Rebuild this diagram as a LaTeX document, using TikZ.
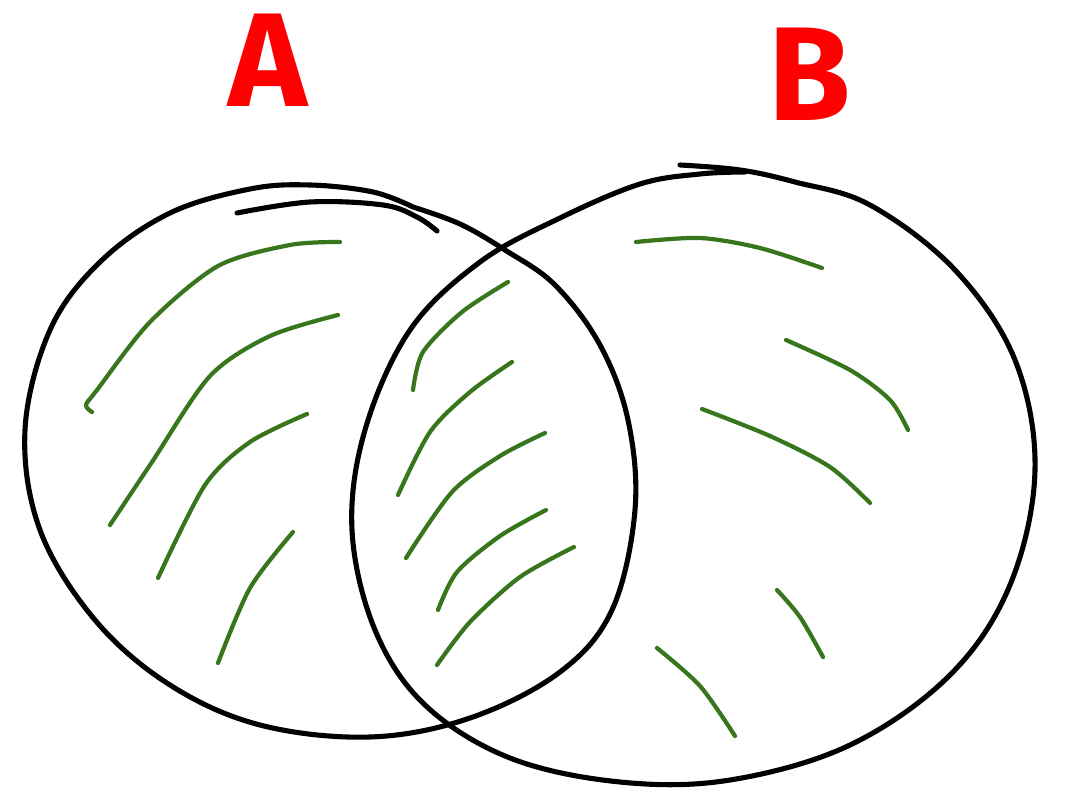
\documentclass[tikz,border=0pt]{standalone}
\usepackage{fontspec}
\setmainfont{Fira Sans}
\begin{document}
\begin{tikzpicture}[x=0.02cm,y=-0.02cm,
  outline/.style={black,line width=2.9pt,line cap=round,line join=round},
  hatch/.style={draw=hatchgreen,line width=2.4pt,line cap=round,line join=round},
  setlabel/.style={text=red,font=\fontsize{76}{76}\selectfont\bfseries}]
\definecolor{hatchgreen}{RGB}{56,118,29}
\useasboundingbox (0,0) rectangle (1069,804);
% circle A
\draw[outline] plot[smooth,tension=0.6] coordinates {(237,213) (310,202) (383,205) (417,217) (437,231)};
\draw[outline] plot[smooth,tension=0.6] coordinates {(413,207) (373,192) (310,185) (250,189) (170,213) (100,262) (50,330) (25,430) (40,530) (95,620) (170,685) (260,725) (370,737) (470,718) (560,672) (612,610) (635,510) (628,420) (600,345) (555,285) (505,250) (460,224) (413,207)};
% circle B
\draw[outline] plot[smooth,tension=0.6] coordinates {(680,165) (740,170) (795,182) (870,205) (955,270) (1015,360) (1035,470) (1010,585) (950,675) (850,745) (730,780) (620,782) (510,758) (425,705) (375,630) (352,530) (365,430) (410,330) (480,262) (560,218) (640,184) (700,174) (745,172)};
% hatching in A only
\draw[hatch] plot[smooth] coordinates {(340,242) (290,245) (218,266) (150,322) (97,390) (86,405) (92,412)};
\draw[hatch] plot[smooth] coordinates {(338,315) (270,336) (210,376) (152,462) (110,525)};
\draw[hatch] plot[smooth] coordinates {(307,414) (250,442) (205,485) (158,578)};
\draw[hatch] plot[smooth] coordinates {(293,532) (250,588) (218,663)};
% hatching in intersection
\draw[hatch] plot[smooth] coordinates {(508,282) (462,312) (423,352) (413,390)};
\draw[hatch] plot[smooth] coordinates {(512,362) (470,392) (430,432) (398,495)};
\draw[hatch] plot[smooth] coordinates {(545,433) (500,456) (452,492) (406,558)};
\draw[hatch] plot[smooth] coordinates {(546,510) (500,536) (457,572) (438,610)};
\draw[hatch] plot[smooth] coordinates {(574,547) (520,577) (470,622) (437,665)};
% hatching in B only
\draw[hatch] plot[smooth] coordinates {(636,242) (700,238) (760,248) (822,268)};
\draw[hatch] plot[smooth] coordinates {(786,340) (850,370) (890,400) (908,430)};
\draw[hatch] plot[smooth] coordinates {(702,409) (770,436) (830,467) (870,503)};
\draw[hatch] plot[smooth] coordinates {(777,590) (800,617) (823,657)};
\draw[hatch] plot[smooth] coordinates {(657,648) (700,686) (735,736)};
% labels
\node[setlabel] (labelA) at (268,60) {A};
\node[setlabel] (labelB) at (810,74) {B};
\end{tikzpicture}
\end{document}
